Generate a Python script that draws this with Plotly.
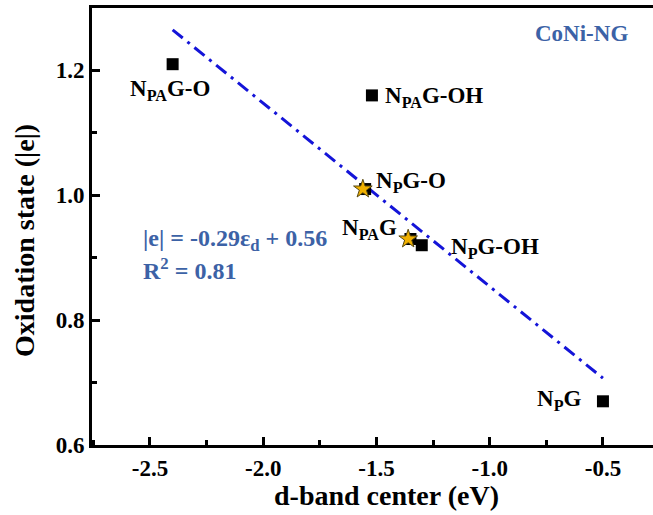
import plotly.graph_objects as go

# Sites: d-band center (eV) vs. oxidation state (|e|)
site_labels = ["N<sub>PA</sub>G-O", "N<sub>PA</sub>G-OH", "N<sub>P</sub>G-O",
               "N<sub>PA</sub>G", "N<sub>P</sub>G-OH", "N<sub>P</sub>G"]
d_band = [-2.40, -1.52, -1.55, -1.35, -1.30, -0.50]
ox_state = [1.21, 1.16, 1.01, 0.93, 0.92, 0.67]

# Highlighted sites (stars)
star_x = [-1.56, -1.36]
star_y = [1.01, 0.93]

# Linear fit endpoints
fit_x = [-2.40, -0.50]
fit_y = [1.265, 0.707]

# Label placement for each site: (x, y, xanchor)
label_pos = [(-2.41, 1.168, "center"), (-1.47, 1.158, "left"), (-1.51, 1.022, "left"),
             (-1.40, 0.946, "right"), (-1.18, 0.915, "left"), (-0.59, 0.672, "right")]

x_ticks = [-2.5, -2.0, -1.5, -1.0, -0.5]
y_ticks = [0.6, 0.8, 1.0, 1.2]

SERIF = "Liberation Serif, Times New Roman, serif"
BLUE_TXT = "#3c62a6"

# plot-area geometry in pixels, used to place paper-anchored texts
L, T, W, H = 92, 8, 561, 437


def px(xp):
    return (xp - L) / W


def py(yp):
    return (T + H - yp) / H


fig = go.Figure()

fig.add_trace(go.Scatter(
    x=fit_x, y=fit_y, mode="lines",
    line=dict(color="#1414d8", width=3, dash="13px,6px,3px,6px"),
    hoverinfo="skip", showlegend=False))

fig.add_trace(go.Scatter(
    x=d_band, y=ox_state, mode="markers",
    marker=dict(symbol="square", size=12, color="black"),
    showlegend=False))

fig.add_trace(go.Scatter(
    x=star_x, y=star_y, mode="markers",
    marker=dict(symbol="star", size=14, color="#f0b000",
                line=dict(color="#5a4a10", width=1)),
    showlegend=False))

annotations = []
for lab, (lx, ly, anc) in zip(site_labels, label_pos):
    annotations.append(dict(x=lx, y=ly, xref="x", yref="y", text="<b>" + lab + "</b>",
                            showarrow=False, xanchor=anc, yanchor="middle",
                            font=dict(family=SERIF, size=23, color="black")))

annotations += [
    dict(x=px(630), y=py(33), xref="paper", yref="paper", text="<b>CoNi-NG</b>",
         showarrow=False, xanchor="right", yanchor="middle",
         font=dict(family=SERIF, size=23, color=BLUE_TXT)),
    dict(x=px(141), y=py(240), xref="paper", yref="paper",
         text="<b>|e| = -0.29ε<sub>d</sub> + 0.56</b>", showarrow=False,
         xanchor="left", yanchor="middle",
         font=dict(family=SERIF, size=24, color=BLUE_TXT)),
    dict(x=px(141), y=py(269), xref="paper", yref="paper",
         text="<b>R<sup>2</sup> = 0.81</b>", showarrow=False,
         xanchor="left", yanchor="middle",
         font=dict(family=SERIF, size=24, color=BLUE_TXT)),
    dict(x=px(386), y=py(495), xref="paper", yref="paper",
         text="<b>d-band center (eV)</b>", showarrow=False,
         xanchor="center", yanchor="middle",
         font=dict(family=SERIF, size=28, color="black")),
    dict(x=px(25), y=py(241), xref="paper", yref="paper",
         text="<b>Oxidation state (|e|)</b>", showarrow=False, textangle=-90,
         xanchor="center", yanchor="middle",
         font=dict(family=SERIF, size=28, color="black")),
]

axis_common = dict(showgrid=False, zeroline=False, showline=True, linecolor="black",
                   linewidth=3, ticks="inside", ticklen=8, tickwidth=2.5, tickcolor="black",
                   tickfont=dict(family=SERIF, size=23, color="black"))

fig.update_xaxes(range=[-2.756, -0.279], tickvals=x_ticks,
                 ticktext=["<b>%.1f</b>" % v for v in x_ticks], mirror=True,
                 minor=dict(dtick=0.25, tick0=-2.5, ticks="inside", ticklen=5,
                            tickwidth=2.5, tickcolor="black"),
                 **axis_common)
fig.update_yaxes(range=[0.6, 1.3], tickvals=y_ticks,
                 ticktext=["<b>%.1f</b>" % v for v in y_ticks],
                 minor=dict(dtick=0.1, tick0=0.6, ticks="inside", ticklen=5,
                            tickwidth=2.5, tickcolor="black"),
                 **axis_common)

fig.update_layout(width=653, height=515, margin=dict(l=L, r=0, t=T, b=515 - T - H),
                  plot_bgcolor="white", paper_bgcolor="white",
                  annotations=annotations)

fig.write_html("out.html")
